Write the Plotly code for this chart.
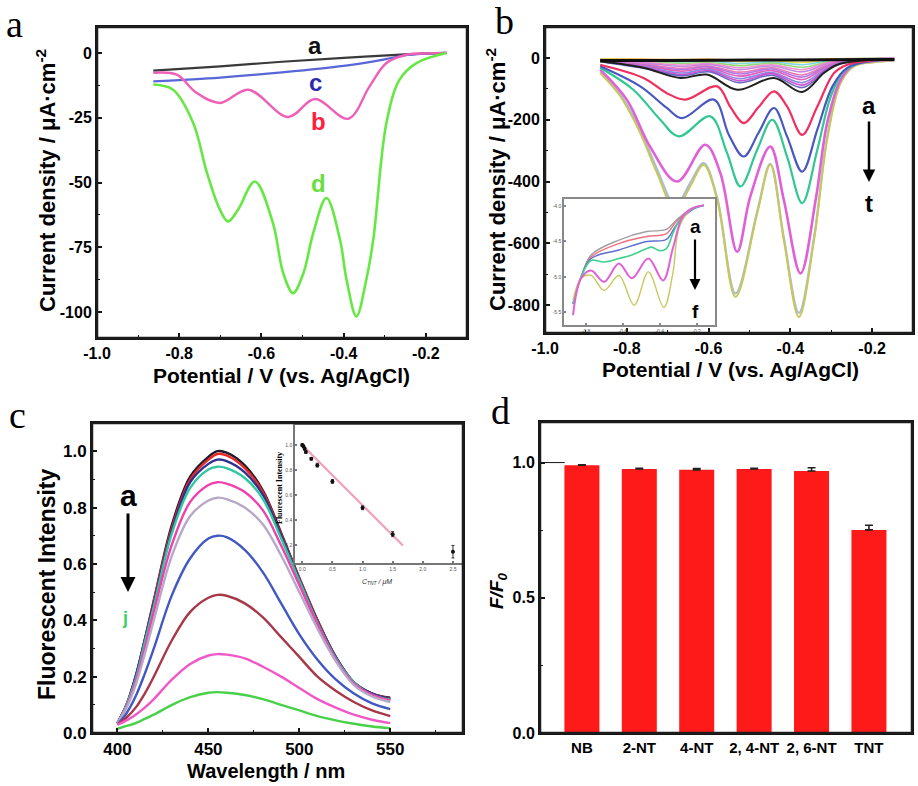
import plotly.graph_objects as go

# ---------------- Panel a data ----------------
a_pot_a = [-0.863, -0.70, -0.55, -0.40, -0.25, -0.15]
a_cur_a = [-6.8, -5.2, -3.4, -1.9, -0.6, 0]
a_pot_c = [-0.863, -0.70, -0.55, -0.40, -0.30, -0.25, -0.15]
a_cur_c = [-11, -9.5, -7.5, -5.0, -2.5, -0.9, 0]
a_pot_b = [-0.863, -0.806, -0.758, -0.701, -0.632, -0.535, -0.470, -0.389, -0.337, -0.296, -0.247, -0.20, -0.15]
a_cur_b = [-7.7, -8.4, -15.4, -19.3, -14.2, -24.7, -17.8, -25.4, -12.9, -3.9, -0.7, -0.2, 0]
a_pot_d = [-0.863, -0.815, -0.766, -0.733, -0.701, -0.681, -0.657, -0.616, -0.572, -0.547, -0.523,
           -0.498, -0.474, -0.442, -0.409, -0.393, -0.369, -0.345, -0.328, -0.296, -0.264, -0.223, -0.15]
a_cur_d = [-12.2, -14.2, -27, -46, -60.5, -65, -60.5, -49.6, -65.7, -85, -92.7,
           -85, -69.5, -56, -72, -87.5, -101.7, -87.5, -72, -27, -10.3, -3.9, 0]

# ---------------- Panel b data ----------------
b_pot_t = [-0.865, -0.816, -0.767, -0.726, -0.681, -0.645, -0.612, -0.579, -0.534, -0.481, -0.449, -0.416, -0.379, -0.342, -0.310, -0.277, -0.244, -0.195, -0.146]
b_cur_t = [-49, -124, -243, -373, -492, -416, -346, -459, -773, -503, -346, -589, -838, -589, -265, -81, -27, -14, -9]
b_cur_s = [-46, -118, -232, -360, -478, -405, -340, -452, -762, -497, -343, -580, -825, -580, -258, -78, -26, -13, -8]
b_pot_r = [-0.865, -0.800, -0.743, -0.677, -0.608, -0.571, -0.530, -0.498, -0.449, -0.416, -0.375, -0.338, -0.310, -0.277, -0.244, -0.195, -0.146]
b_cur_r = [-38, -135, -287, -400, -281, -373, -627, -449, -287, -459, -697, -459, -211, -70, -22, -10, -7]
b_pot_q = [-0.865, -0.784, -0.718, -0.673, -0.596, -0.555, -0.522, -0.481, -0.444, -0.408, -0.371, -0.334, -0.301, -0.269, -0.22, -0.146]
b_cur_q = [-32, -103, -200, -254, -189, -307, -416, -297, -200, -319, -470, -297, -124, -43, -12, -7]
b_pot_p = [-0.865, -0.767, -0.702, -0.665, -0.587, -0.55, -0.514, -0.478, -0.440, -0.408, -0.371, -0.334, -0.297, -0.261, -0.20, -0.146]
b_cur_p = [-27, -92, -162, -195, -135, -250, -319, -243, -162, -254, -368, -232, -92, -32, -10, -6]
b_pot_o = [-0.865, -0.759, -0.702, -0.657, -0.579, -0.546, -0.514, -0.478, -0.440, -0.408, -0.371, -0.334, -0.293, -0.261, -0.20, -0.146]
b_cur_o = [-22, -65, -114, -135, -92, -160, -211, -160, -108, -157, -249, -157, -49, -22, -8, -5]
b_pot_n = [-0.865, -0.759, -0.669, -0.604, -0.530, -0.440, -0.371, -0.318, -0.285, -0.20, -0.146]
b_cur_n = [-11, -32, -65, -54, -103, -65, -110, -49, -22, -6, -4]
b_pot_small = [-0.865, -0.76, -0.665, -0.60, -0.525, -0.445, -0.37, -0.31, -0.26, -0.146]
b_cur_small = {
    "b": [-3, -4, -5, -4, -7, -5, -8, -4, -2, -1],
    "c": [-4, -6, -9, -7, -12, -9, -15, -7, -3, -1],
    "d": [-5, -8, -13, -10, -18, -13, -22, -10, -3, -1],
    "e": [-6, -11, -18, -14, -25, -17, -30, -13, -4, -1],
    "f": [-7, -14, -23, -18, -32, -22, -38, -16, -5, -2],
    "g": [-8, -16, -28, -21, -38, -26, -45, -19, -6, -2],
    "h": [-9, -20, -34, -26, -46, -32, -55, -23, -7, -2],
    "i": [-10, -22, -38, -29, -52, -36, -62, -26, -8, -2],
    "j": [-10, -25, -43, -33, -59, -41, -70, -29, -9, -3],
    "k": [-11, -28, -49, -37, -67, -47, -80, -33, -10, -3],
    "l": [-11, -30, -54, -41, -74, -51, -88, -36, -11, -3],
    "m": [-12, -33, -58, -45, -80, -56, -96, -39, -12, -3],
}
b_small_colors = ["#f5b040", "#e8e050", "#80d8e8", "#98d878", "#f090d0", "#c888e0",
                  "#e878b8", "#b078e0", "#e060c0", "#8888e0", "#d050d0", "#6868c8"]
b_pot_a = [-0.865, -0.70, -0.50, -0.30, -0.20, -0.146]
b_cur_a = [-8, -8, -7, -6, -5, -5]

# inset of panel b
ib_pot = [-0.871, -0.827, -0.773, -0.622, -0.471, -0.364, -0.311, -0.222, -0.16]
ib_cur_a = [-5.38, -5.0, -4.69, -4.48, -4.36, -4.33, -4.20, -4.03, -3.99]
ib_cur_b = [-5.38, -5.0, -4.72, -4.53, -4.43, -4.39, -4.22, -4.04, -3.99]
ib_cur_c = [-5.38, -5.0, -4.74, -4.62, -4.50, -4.47, -4.27, -4.05, -3.99]
ib_pot_d = [-0.871, -0.827, -0.773, -0.702, -0.622, -0.551, -0.471, -0.444, -0.4, -0.364, -0.329, -0.293, -0.222, -0.16]
ib_cur_d = [-5.38, -5.0, -4.77, -4.79, -4.74, -4.69, -4.60, -4.58, -4.63, -4.60, -4.39, -4.20, -4.04, -3.99]
ib_pot_e = [-0.871, -0.827, -0.773, -0.702, -0.622, -0.551, -0.462, -0.382, -0.329, -0.276, -0.222, -0.16]
ib_cur_e = [-5.54, -5.02, -4.91, -5.07, -4.81, -5.02, -4.74, -5.05, -4.60, -4.15, -4.03, -3.99]
ib_pot_f = [-0.871, -0.827, -0.773, -0.702, -0.622, -0.539, -0.462, -0.378, -0.329, -0.293, -0.222, -0.16]
ib_cur_f = [-5.33, -5.02, -4.98, -5.19, -4.98, -5.40, -4.93, -5.43, -4.95, -4.29, -4.03, -3.99]

# ---------------- Panel c data ----------------
wl = [400, 405, 410, 415, 420, 430, 440, 450, 455, 460, 470, 480, 490, 500, 510, 520, 530, 540, 550]
fl_a = [0.035, 0.10, 0.20, 0.33, 0.47, 0.74, 0.91, 0.98, 1.0, 0.995, 0.95, 0.86, 0.71, 0.55, 0.40, 0.27, 0.18, 0.14, 0.125]
fl_b = [0.035, 0.10, 0.20, 0.33, 0.47, 0.73, 0.90, 0.97, 0.99, 0.985, 0.94, 0.855, 0.705, 0.55, 0.40, 0.27, 0.18, 0.14, 0.122]
fl_c = [0.035, 0.10, 0.20, 0.33, 0.46, 0.72, 0.89, 0.955, 0.97, 0.965, 0.925, 0.845, 0.70, 0.545, 0.395, 0.27, 0.18, 0.14, 0.12]
fl_d = [0.035, 0.10, 0.19, 0.32, 0.45, 0.71, 0.87, 0.935, 0.945, 0.94, 0.905, 0.83, 0.69, 0.54, 0.39, 0.265, 0.18, 0.135, 0.118]
fl_e = [0.035, 0.095, 0.18, 0.30, 0.43, 0.67, 0.82, 0.88, 0.89, 0.885, 0.855, 0.79, 0.665, 0.525, 0.385, 0.26, 0.175, 0.135, 0.115]
fl_f = [0.035, 0.09, 0.17, 0.28, 0.40, 0.63, 0.77, 0.825, 0.835, 0.83, 0.80, 0.74, 0.63, 0.50, 0.37, 0.255, 0.17, 0.13, 0.11]
fl_g = [0.03, 0.07, 0.13, 0.21, 0.30, 0.49, 0.62, 0.69, 0.70, 0.695, 0.65, 0.57, 0.46, 0.35, 0.26, 0.19, 0.14, 0.105, 0.085]
fl_h = [0.03, 0.055, 0.09, 0.14, 0.20, 0.33, 0.43, 0.48, 0.49, 0.487, 0.46, 0.41, 0.34, 0.27, 0.20, 0.15, 0.11, 0.08, 0.06]
fl_i = [0.03, 0.045, 0.065, 0.09, 0.12, 0.19, 0.245, 0.275, 0.28, 0.278, 0.265, 0.235, 0.20, 0.16, 0.12, 0.09, 0.065, 0.047, 0.035]
fl_j = [0.015, 0.025, 0.035, 0.05, 0.065, 0.10, 0.127, 0.143, 0.145, 0.143, 0.135, 0.12, 0.10, 0.08, 0.06, 0.045, 0.033, 0.023, 0.017]
fl_series = [fl_a, fl_b, fl_c, fl_d, fl_e, fl_f, fl_g, fl_h, fl_i, fl_j]
fl_colors = ["#1a1a2a", "#e82828", "#303090", "#30c8a0", "#f040b0", "#b8a8c8", "#4058c0", "#a83848", "#f058c8", "#48d048"]

# inset of panel c
conc_tnt = [0, 0.02, 0.04, 0.06, 0.15, 0.25, 0.5, 1.0, 1.5, 2.5]
rel_int = [1.0, 0.99, 0.97, 0.945, 0.89, 0.84, 0.71, 0.50, 0.29, 0.15]
rel_err = [0.01, 0.01, 0.01, 0.01, 0.01, 0.015, 0.015, 0.015, 0.02, 0.05]
fit_x = [0, 1.67]
fit_y = [1.0, 0.2]

# ---------------- Panel d data ----------------
analytes = ["NB", "2-NT", "4-NT", "2, 4-NT", "2, 6-NT", "TNT"]
ratio = [0.99, 0.976, 0.973, 0.976, 0.969, 0.751]
ratio_err = [0.002, 0.003, 0.005, 0.003, 0.012, 0.017]

# ================= Figure =================
W, H = 918, 786
def PX(x): return x / W
def PY(y): return 1 - y / H

fig = go.Figure()

def line(x, y, color, width, xa, ya):
    fig.add_trace(go.Scatter(x=x, y=y, mode="lines", xaxis=xa, yaxis=ya, showlegend=False,
                             line=dict(color=color, width=width, shape="spline", smoothing=1.0)))

# panel a
line(a_pot_a, a_cur_a, "#3a3a3a", 2.2, "x", "y")
line(a_pot_c, a_cur_c, "#5866d8", 2.2, "x", "y")
line(a_pot_b, a_cur_b, "#ee60b8", 2.4, "x", "y")
line(a_pot_d, a_cur_d, "#66e844", 2.6, "x", "y")

# panel b
for (k, cur), col in zip(b_cur_small.items(), b_small_colors):
    line(b_pot_small, cur, col, 1.6, "x2", "y2")
line(b_pot_t, b_cur_s, "#a8bce0", 2.2, "x2", "y2")
line(b_pot_t, b_cur_t, "#c8c858", 2.0, "x2", "y2")
line(b_pot_r, b_cur_r, "#e060d8", 2.6, "x2", "y2")
line(b_pot_q, b_cur_q, "#30c890", 2.2, "x2", "y2")
line(b_pot_p, b_cur_p, "#4858c0", 2.2, "x2", "y2")
line(b_pot_o, b_cur_o, "#f03060", 2.2, "x2", "y2")
line(b_pot_n, b_cur_n, "#202020", 2.0, "x2", "y2")
line(b_pot_a, b_cur_a, "#101010", 3.0, "x2", "y2")

# inset b
line(ib_pot, ib_cur_a, "#a0a0a0", 1.4, "x5", "y5")
line(ib_pot, ib_cur_b, "#f07080", 1.4, "x5", "y5")
line(ib_pot, ib_cur_c, "#6070d0", 1.4, "x5", "y5")
line(ib_pot_d, ib_cur_d, "#40d090", 1.6, "x5", "y5")
line(ib_pot_f, ib_cur_f, "#c8c860", 1.4, "x5", "y5")
line(ib_pot_e, ib_cur_e, "#e060d8", 2.0, "x5", "y5")

# panel c
for ys, col in zip(fl_series, fl_colors):
    line(wl, ys, col, 2.4, "x3", "y3")

# inset c
fig.add_trace(go.Scatter(x=fit_x, y=fit_y, mode="lines", xaxis="x6", yaxis="y6", showlegend=False,
                         line=dict(color="#f0a0b8", width=2.2)))
fig.add_trace(go.Scatter(x=conc_tnt, y=rel_int, mode="markers", xaxis="x6", yaxis="y6", showlegend=False,
                         marker=dict(color="#111", size=4),
                         error_y=dict(type="data", array=rel_err, color="#333", thickness=1, width=1.5)))

# panel d
fig.add_trace(go.Bar(x=analytes, y=ratio, xaxis="x4", yaxis="y4", showlegend=False, width=0.61,
                     marker=dict(color="#ff1a1a", line=dict(width=0)),
                     error_y=dict(type="data", array=ratio_err, arrayminus=[0] * len(ratio_err),
                                  symmetric=False, color="#222", thickness=1.6, width=4)))

# ---------------- axes ----------------
FONT = "Liberation Sans"
DARK = "#151515"
def axis_common(size, color=DARK, lw=2, tlen=5, minor=None, fcolor="black"):
    d = dict(showline=True, mirror=True, linecolor=color, linewidth=lw, ticks="inside",
             ticklen=tlen, tickwidth=1.5, tickcolor=color, showgrid=False, zeroline=False,
             automargin=False,
             tickfont=dict(family=FONT, size=size, color=fcolor))
    if minor is not None:
        d["minor"] = dict(ticks="inside", ticklen=3, tickwidth=1.2, tickcolor=color, showgrid=False, **minor)
    return d

def dom(x0, x1, y0, y1):
    return [PX(x0), PX(x1)], [PY(y1), PY(y0)]

boxes = {"a": (97, 467, 27, 338), "b": (545, 913, 27, 333), "c": (92, 463, 423, 733), "d": (540, 912, 422, 733)}
ax_x, ax_y = dom(*boxes["a"])
bx_x, bx_y = dom(*boxes["b"])
cx_x, cx_y = dom(*boxes["c"])
dx_x, dx_y = dom(*boxes["d"])
ibx, iby = dom(564, 715, 199, 325)
icx, icy = dom(295, 462, 425, 563)

pot_ticks = [-1.0, -0.8, -0.6, -0.4, -0.2]
def bold(lst): return ["<b>" + s + "</b>" for s in lst]
pot_text = bold(["-1.0", "-0.8", "-0.6", "-0.4", "-0.2"])

xaxis4 = axis_common(15)
xaxis4["ticks"] = ""

fig.update_layout(
    template="none",
    xaxis=dict(domain=ax_x, anchor="y", range=[-1.0, -0.1], tickvals=pot_ticks, ticktext=pot_text,
               **axis_common(16, minor=dict(dtick=0.1, tick0=-1.0))),
    yaxis=dict(domain=ax_y, anchor="x", range=[-110, 10], tickvals=[0, -25, -50, -75, -100],
               ticktext=bold(["0", "-25", "-50", "-75", "-100"]), **axis_common(16, minor=dict(dtick=12.5, tick0=0))),
    xaxis2=dict(domain=bx_x, anchor="y2", range=[-1.0, -0.1], tickvals=pot_ticks, ticktext=pot_text,
                **axis_common(16, minor=dict(dtick=0.1, tick0=-1.0))),
    yaxis2=dict(domain=bx_y, anchor="x2", range=[-890, 100], tickvals=[0, -200, -400, -600, -800],
                ticktext=bold(["0", "-200", "-400", "-600", "-800"]), **axis_common(16, minor=dict(dtick=100, tick0=0))),
    xaxis3=dict(domain=cx_x, anchor="y3", range=[386, 590], tickvals=[400, 450, 500, 550],
                ticktext=bold(["400", "450", "500", "550"]), **axis_common(17, minor=dict(dtick=25, tick0=400))),
    yaxis3=dict(domain=cx_y, anchor="x3", range=[0, 1.1], tickvals=[0, 0.2, 0.4, 0.6, 0.8, 1.0],
                ticktext=bold(["0.0", "0.2", "0.4", "0.6", "0.8", "1.0"]), **axis_common(17, minor=dict(dtick=0.1, tick0=0))),
    xaxis4=dict(domain=dx_x, anchor="y4", range=[-0.73, 5.75], type="category",
                tickvals=analytes, ticktext=bold(analytes), **xaxis4),
    yaxis4=dict(domain=dx_y, anchor="x4", range=[0, 1.15], tickvals=[0, 0.5, 1.0],
                ticktext=bold(["0.0", "0.5", "1.0"]), **axis_common(16, minor=dict(dtick=0.25, tick0=0))),
    xaxis5=dict(domain=ibx, anchor="y5", range=[-0.92, -0.10], tickvals=[-0.8, -0.6, -0.4, -0.2],
                ticktext=["-0.8", "-0.6", "-0.4", "-0.2"], **axis_common(5, color="#888", lw=1.5, tlen=2, fcolor="#555")),
    yaxis5=dict(domain=iby, anchor="x5", range=[-5.68, -3.90], tickvals=[-4.0, -4.5, -5.0, -5.5],
                ticktext=["-4.0", "-4.5", "-5.0", "-5.5"], **axis_common(5, color="#888", lw=1.5, tlen=2, fcolor="#555")),
    xaxis6=dict(domain=icx, anchor="y6", range=[-0.12, 2.65], tickvals=[0, 0.5, 1.0, 1.5, 2.0, 2.5],
                ticktext=["0.0", "0.5", "1.0", "1.5", "2.0", "2.5"], **axis_common(5, color="#777", lw=1.5, tlen=2, fcolor="#555")),
    yaxis6=dict(domain=icy, anchor="x6", range=[0.06, 1.16], tickvals=[0.2, 0.4, 0.6, 0.8, 1.0],
                ticktext=["0.2", "0.4", "0.6", "0.8", "1.0"], **axis_common(5, color="#777", lw=1.5, tlen=2, fcolor="#555")),
)

# ---------------- annotations ----------------
ann = []
def text(x, y, s, size, color="black", family=FONT, bold=True, angle=0, italic=False):
    t = s
    if bold:
        t = "<b>" + t + "</b>"
    if italic:
        t = "<i>" + t + "</i>"
    ann.append(dict(x=PX(x), y=PY(y), xref="paper", yref="paper", text=t, showarrow=False,
                    font=dict(family=family, size=size, color=color), textangle=angle,
                    xanchor="center", yanchor="middle"))

def arrow(x, y_tail, y_head, width=2.5):
    ann.append(dict(x=PX(x), y=PY(y_head), xref="paper", yref="paper", text="", showarrow=True,
                    ax=0, ay=-(y_head - y_tail), arrowhead=2, arrowsize=1.0, arrowwidth=width,
                    arrowcolor="black"))

SERIF = "Liberation Serif"
text(14, 24, "a", 38, family=SERIF, bold=False)
text(504, 21, "b", 38, family=SERIF, bold=False)
text(17, 415, "c", 38, family=SERIF, bold=False)
text(500, 411, "d", 38, family=SERIF, bold=False)

text(46, 181, "Current density / μA·cm<sup>-2</sup>", 22, angle=-90)
text(281, 375, "Potential / V (vs. Ag/AgCl)", 21)
text(496, 180, "Current density / μA·cm<sup>-2</sup>", 22, angle=-90)
text(730, 370, "Potential / V (vs. Ag/AgCl)", 21)
text(47, 584, "Fluorescent Intensity", 23, angle=-90)
text(266, 771, "Wavelength / nm", 20)
text(498, 590, "F/F<sub>0</sub>", 19, angle=-90, italic=True)

text(315, 45, "a", 24, color="#111")
text(315, 83, "c", 24, color="#2a2ab0")
text(318, 121, "b", 24, color="#ff2040")
text(318, 183, "d", 24, color="#66e040")

text(869, 105, "a", 24)
arrow(869, 120, 182, 2.5)
text(869, 203, "t", 24)
text(695, 226, "a", 19)
arrow(695, 238, 290, 2.2)
text(695, 311, "f", 19)

text(128, 495, "a", 30)
arrow(128, 512, 592, 3)
text(125, 618, "j", 18, color="#40d060")

text(279, 488, "Fluorescent Intensity", 8, family=SERIF, angle=-90)
text(377, 582, "C<sub>TNT</sub> / μM", 7, color="#333", bold=False, italic=True)

fig.update_layout(annotations=ann)

# panel frames as paper-referenced rectangles (redundant with the axis lines)
for key, (x0, x1, y0, y1) in boxes.items():
    fig.add_shape(type="rect", xref="paper", yref="paper", x0=PX(x0), x1=PX(x1), y0=PY(y1), y1=PY(y0),
                  line=dict(color="#1c1c1c", width=2.5), fillcolor="rgba(0,0,0,0)", layer="above")

fig.add_shape(type="line", xref="x4", yref="y4", x0=-0.73, x1=-0.3, y0=1.0, y1=1.0,
              line=dict(color=DARK, width=1))

fig.update_layout(width=W, height=H, margin=dict(l=0, r=0, t=0, b=0, autoexpand=False),
                  paper_bgcolor="white", plot_bgcolor="white")

fig.write_html("out.html", post_script="document.body.style.margin='0px';",
               config={"displayModeBar": False})
